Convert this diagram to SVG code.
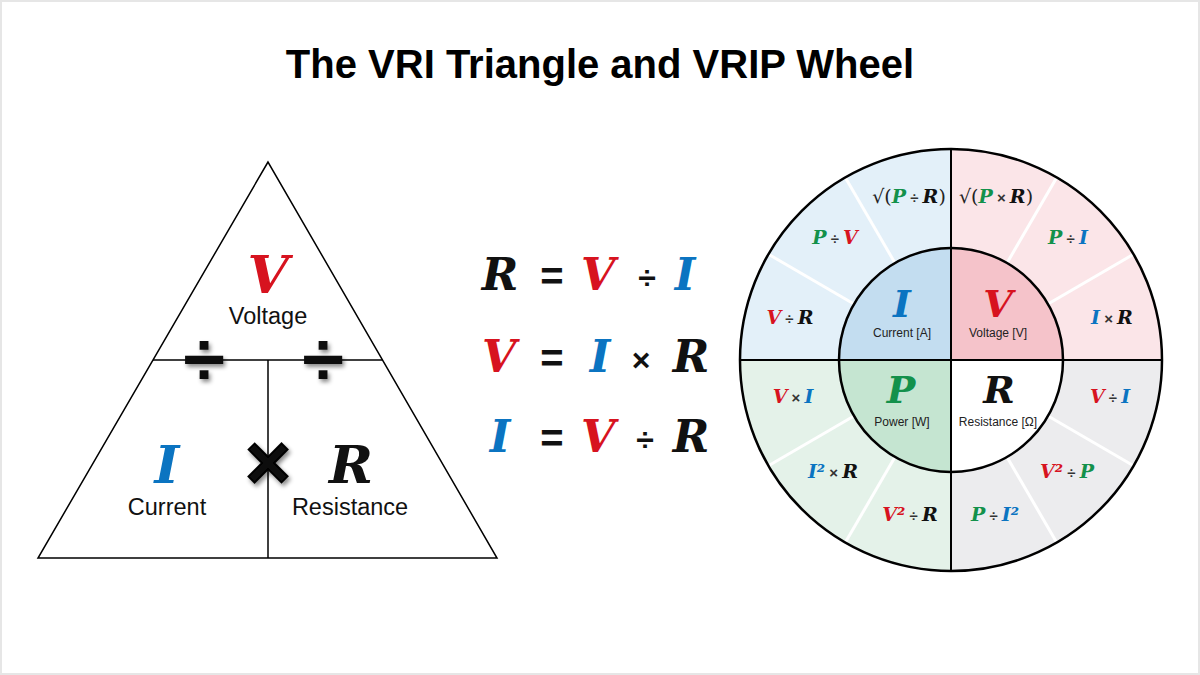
<svg xmlns="http://www.w3.org/2000/svg" width="1200" height="675" viewBox="0 0 1200 675">
<defs>
<filter id="sh" x="-50%" y="-50%" width="200%" height="200%">
<feDropShadow dx="2" dy="3" stdDeviation="2" flood-color="#000" flood-opacity="0.45"/>
</filter>
</defs>
<style>
.title{font-family:"Liberation Sans",Arial,sans-serif;font-weight:bold;font-size:40px;fill:#000}
.m{font-family:"DejaVu Serif","Liberation Serif",serif;font-weight:bold;font-style:italic}
.tri{font-size:53px}
.big{font-size:44px}
.mid{font-size:38px}
.sm{font-size:19px}
.r{fill:#d7131f}
.b{fill:#0b74c1}
.g{fill:#13914b}
.k{fill:#111}
.lbl{font-family:"Liberation Sans",Arial,sans-serif;font-size:23.5px;fill:#111}
.lbl2{font-family:"Liberation Sans",Arial,sans-serif;font-size:12px;fill:#222}
.op{font-family:"Liberation Sans",Arial,sans-serif;font-weight:bold;fill:#111}
.sop{font-family:"Liberation Sans",Arial,sans-serif;font-weight:bold;font-style:normal;font-size:15px;fill:#333}
.sq{font-family:"DejaVu Serif",serif;font-weight:normal;font-style:normal;fill:#222}
.line{stroke:#000;fill:none}
.sep{stroke:#fff;stroke-width:3}
</style>
<rect x="1" y="1" width="1198" height="673" fill="#fff" stroke="#e6e6e6" stroke-width="2"/>
<text class="title" x="600" y="78" text-anchor="middle">The VRI Triangle and VRIP Wheel</text>

<g id="triangle">
<polygon points="268,162 38,558 497,558" fill="#fff" stroke="#000" stroke-width="1.5"/>
<line class="line" x1="153" y1="360" x2="383" y2="360" stroke-width="1.5"/>
<line class="line" x1="268" y1="360" x2="268" y2="558" stroke-width="1.5"/>
</g>
<g id="tri-V">
<text class="m tri r" x="268" y="293" text-anchor="middle">V</text>
<text class="lbl" x="268" y="324" text-anchor="middle">Voltage</text>
</g>
<g id="tri-I">
<text class="m tri b" x="167" y="483" text-anchor="middle">I</text>
<text class="lbl" x="167" y="515" text-anchor="middle">Current</text>
</g>
<g id="tri-R">
<text class="m tri k" x="351" y="483" text-anchor="middle">R</text>
<text class="lbl" x="350" y="515" text-anchor="middle">Resistance</text>
</g>
<g id="tri-ops" filter="url(#sh)">
<text class="op" x="204" y="385" font-size="76" text-anchor="middle">÷</text>
<text class="op" x="323" y="385" font-size="76" text-anchor="middle">÷</text>
<text class="op" x="268" y="489" font-size="78" text-anchor="middle" stroke="#000" stroke-width="2">×</text>
</g>

<g id="equations">
<text class="m big k" x="500" y="290" text-anchor="middle">R</text>
<text class="op" x="552" y="290" font-size="40" text-anchor="middle">=</text>
<text class="m big r" x="598" y="290" text-anchor="middle">V</text>
<text class="op" x="647" y="289" font-size="32" font-weight="normal" text-anchor="middle">÷</text>
<text class="m big b" x="685" y="290" text-anchor="middle">I</text>

<text class="m big r" x="499" y="372" text-anchor="middle">V</text>
<text class="op" x="552" y="372" font-size="40" text-anchor="middle">=</text>
<text class="m big b" x="600" y="372" text-anchor="middle">I</text>
<text class="op" x="641" y="371" font-size="32" font-weight="normal" text-anchor="middle">×</text>
<text class="m big k" x="691" y="372" text-anchor="middle">R</text>

<text class="m big b" x="500" y="452" text-anchor="middle">I</text>
<text class="op" x="552" y="452" font-size="40" text-anchor="middle">=</text>
<text class="m big r" x="598" y="452" text-anchor="middle">V</text>
<text class="op" x="645" y="451" font-size="32" font-weight="normal" text-anchor="middle">÷</text>
<text class="m big k" x="691" y="452" text-anchor="middle">R</text>
</g>

<g id="wheel">
<path d="M951,360 L740,360 A211,211 0 0 1 951,149 Z" fill="#e3f0f9"/>
<path d="M951,360 L951,149 A211,211 0 0 1 1162,360 Z" fill="#fbe5e8"/>
<path d="M951,360 L1162,360 A211,211 0 0 1 951,571 Z" fill="#ececee"/>
<path d="M951,360 L951,571 A211,211 0 0 1 740,360 Z" fill="#e4f2e9"/>
<g class="sep">
<line x1="854" y1="304" x2="768" y2="254"/>
<line x1="895" y1="263" x2="845" y2="177"/>
<line x1="1048" y1="304" x2="1134" y2="254"/>
<line x1="1007" y1="263" x2="1057" y2="177"/>
<line x1="1048" y1="416" x2="1134" y2="466"/>
<line x1="1007" y1="457" x2="1057" y2="543"/>
<line x1="854" y1="416" x2="768" y2="466"/>
<line x1="895" y1="457" x2="845" y2="543"/>
</g>
<path d="M951,360 L839,360 A112,112 0 0 1 951,248 Z" fill="#c3ddf0"/>
<path d="M951,360 L951,248 A112,112 0 0 1 1063,360 Z" fill="#f5c3ca"/>
<path d="M951,360 L1063,360 A112,112 0 0 1 951,472 Z" fill="#ffffff"/>
<path d="M951,360 L951,472 A112,112 0 0 1 839,360 Z" fill="#c5e5d1"/>
<circle cx="951" cy="360" r="211" class="line" stroke-width="2.5"/>
<circle cx="951" cy="360" r="112" class="line" stroke-width="2.5"/>
<line class="line" x1="740" y1="360" x2="1162" y2="360" stroke-width="2"/>
<line class="line" x1="951" y1="149" x2="951" y2="571" stroke-width="2"/>
</g>

<g id="hub-I">
<text class="m mid b" x="902" y="317" text-anchor="middle">I</text>
<text class="lbl2" x="902" y="337" text-anchor="middle">Current [A]</text>
</g>
<g id="hub-V">
<text class="m mid r" x="998" y="317" text-anchor="middle">V</text>
<text class="lbl2" x="998" y="337" text-anchor="middle">Voltage [V]</text>
</g>
<g id="hub-P">
<text class="m mid g" x="901" y="403" text-anchor="middle">P</text>
<text class="lbl2" x="902" y="426" text-anchor="middle">Power [W]</text>
</g>
<g id="hub-R">
<text class="m mid k" x="999" y="403" text-anchor="middle">R</text>
<text class="lbl2" x="998" y="426" text-anchor="middle">Resistance [Ω]</text>
</g>

<g id="seg-I">
<text class="m sm" x="909" y="203" text-anchor="middle"><tspan class="sq">√(</tspan><tspan class="g">P</tspan><tspan class="sop"> ÷ </tspan><tspan class="k">R</tspan><tspan class="sq">)</tspan></text>
<text class="m sm" x="835" y="244" text-anchor="middle"><tspan class="g">P</tspan><tspan class="sop"> ÷ </tspan><tspan class="r">V</tspan></text>
<text class="m sm" x="790" y="324" text-anchor="middle"><tspan class="r">V</tspan><tspan class="sop"> ÷ </tspan><tspan class="k">R</tspan></text>
</g>
<g id="seg-V">
<text class="m sm" x="996" y="203" text-anchor="middle"><tspan class="sq">√(</tspan><tspan class="g">P</tspan><tspan class="sop"> × </tspan><tspan class="k">R</tspan><tspan class="sq">)</tspan></text>
<text class="m sm" x="1068" y="244" text-anchor="middle"><tspan class="g">P</tspan><tspan class="sop"> ÷ </tspan><tspan class="b">I</tspan></text>
<text class="m sm" x="1112" y="324" text-anchor="middle"><tspan class="b">I</tspan><tspan class="sop"> × </tspan><tspan class="k">R</tspan></text>
</g>
<g id="seg-P">
<text class="m sm" x="793" y="403" text-anchor="middle"><tspan class="r">V</tspan><tspan class="sop"> × </tspan><tspan class="b">I</tspan></text>
<text class="m sm" x="833" y="478" text-anchor="middle"><tspan class="b">I²</tspan><tspan class="sop"> × </tspan><tspan class="k">R</tspan></text>
<text class="m sm" x="910" y="521" text-anchor="middle"><tspan class="r">V²</tspan><tspan class="sop"> ÷ </tspan><tspan class="k">R</tspan></text>
</g>
<g id="seg-R">
<text class="m sm" x="1110" y="403" text-anchor="middle"><tspan class="r">V</tspan><tspan class="sop"> ÷ </tspan><tspan class="b">I</tspan></text>
<text class="m sm" x="1067" y="478" text-anchor="middle"><tspan class="r">V²</tspan><tspan class="sop"> ÷ </tspan><tspan class="g">P</tspan></text>
<text class="m sm" x="995" y="521" text-anchor="middle"><tspan class="g">P</tspan><tspan class="sop"> ÷ </tspan><tspan class="b">I²</tspan></text>
</g>
</svg>
